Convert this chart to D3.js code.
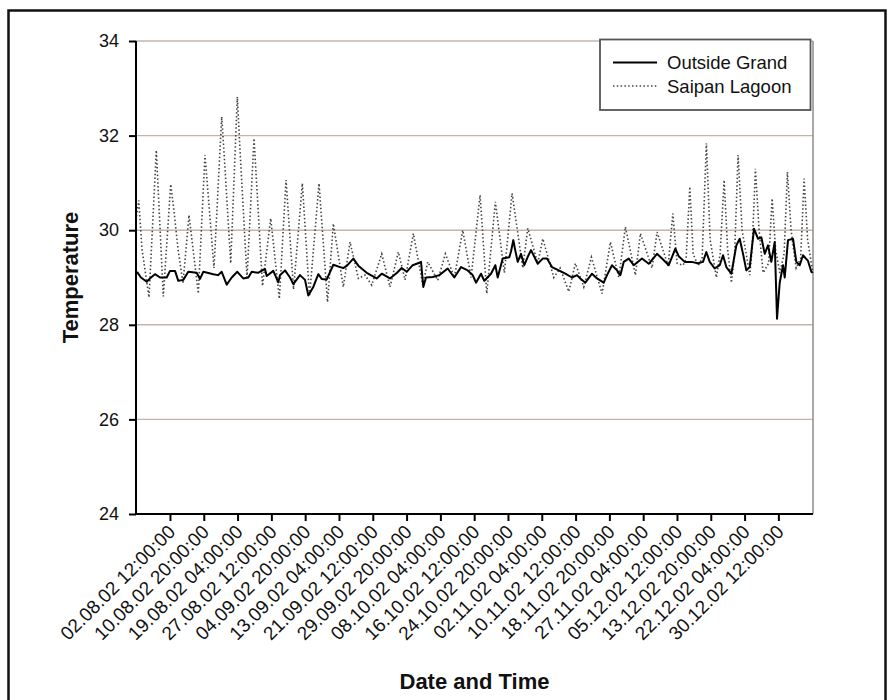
<!DOCTYPE html>
<html>
<head>
<meta charset="utf-8">
<script src="https://cdn.jsdelivr.net/npm/d3@7"></script>
<style>
  html, body { margin: 0; padding: 0; background: #fff; }
  svg { display: block; font-family: "Liberation Sans", Arial, Helvetica, sans-serif; }
</style>
</head>
<body>
<svg id="chart" width="894" height="700"></svg>
<script>
// ---------- DATA ----------
const startDate = "25.07.02 03:00:00";
const endDate = "08.01.03 00:50:00";

const xTickLabels = [
  "02.08.02 12:00:00", "10.08.02 20:00:00", "19.08.02 04:00:00", "27.08.02 12:00:00",
  "04.09.02 20:00:00", "13.09.02 04:00:00", "21.09.02 12:00:00", "29.09.02 20:00:00",
  "08.10.02 04:00:00", "16.10.02 12:00:00", "24.10.02 20:00:00", "02.11.02 04:00:00",
  "10.11.02 12:00:00", "18.11.02 20:00:00", "27.11.02 04:00:00", "05.12.02 12:00:00",
  "13.12.02 20:00:00", "22.12.02 04:00:00", "30.12.02 12:00:00"
];
const yTicks = [24, 26, 28, 30, 32, 34];
const seriesNames = ["Outside Grand", "Saipan Lagoon"];

// days since startDate
const lagoonDay = [
  0.12, 0.67, 1.48, 3.21, 5.01, 6.73, 8.56, 9.37, 10.36, 11.59, 13.07, 14.06, 15.36, 17.01,
  19.23, 21.13, 21.95, 23.35, 24.98, 25.64, 27.37, 29.10, 31.19, 33.21, 35.34, 36.99, 38.84,
  41.01, 42.78, 45.12, 47.22, 48.65, 51.11, 52.77, 54.82, 56.47, 58.12, 60.58, 62.63, 64.68,
  66.33, 68.38, 70.70, 71.93, 74.40, 76.27, 78.49, 80.56, 82.61, 84.83, 86.48, 88.60, 90.82,
  92.72, 95.36, 96.59, 99.06, 100.29, 103.00, 104.56, 106.70, 108.33, 110.40, 112.28, 114.91,
  116.96, 119.03, 120.66, 123.13, 124.36, 127.23, 128.47, 131.19, 132.35, 133.41, 134.88,
  135.63, 136.54, 137.36, 138.58, 139.57, 140.63, 141.55, 143.10, 144.01, 145.00, 145.86,
  146.80, 147.58, 148.44, 149.43, 151.33, 151.90, 152.71, 153.62, 154.61, 155.97, 156.83,
  157.69, 158.73, 159.79, 160.60, 161.51, 162.75, 163.86, 164.72, 165.58, 166.87
];
const lagoonTemp = [
  30.30, 30.63, 29.60, 28.58, 31.69, 28.60, 30.97, 30.40, 29.60, 28.88, 30.32, 29.60, 28.66, 31.59,
  29.20, 32.40, 31.30, 29.30, 32.82, 31.70, 29.00, 31.94, 28.82, 30.25, 28.55, 31.06, 28.75,
  30.99, 28.60, 30.99, 28.48, 30.14, 28.80, 29.75, 28.98, 29.05, 28.84, 29.50, 28.80, 29.54,
  28.95, 29.93, 28.84, 29.33, 28.94, 29.50, 29.00, 30.00, 29.00, 30.74, 28.66, 30.60, 29.10,
  30.78, 29.20, 30.04, 29.30, 29.82, 29.00, 29.20, 28.70, 29.30, 28.80, 29.43, 28.66,
  29.75, 29.00, 30.07, 29.05, 29.93, 29.20, 29.96, 29.25, 30.35, 29.30, 29.26,
  29.40, 30.92, 29.50, 29.25, 29.40, 31.84, 29.80, 29.00, 29.50, 31.06, 29.60,
  28.89, 29.50, 31.59, 30.00, 29.05, 29.60, 31.30, 30.00, 29.10, 29.30, 30.67,
  29.60, 29.10, 29.50, 31.23, 30.00, 29.20, 29.40, 31.09, 29.80, 29.10
];

const outsideDay = [
  0.25, 1.23, 2.64, 3.70, 4.68, 5.92, 7.57, 8.38, 9.62, 10.43, 11.66, 12.89, 14.97, 15.78, 16.59,
  19.06, 20.22, 21.13, 22.36, 23.60, 24.98, 26.45, 27.69, 28.53, 30.08, 31.81, 32.22, 33.85,
  35.08, 35.50, 36.74, 37.97, 38.78, 40.43, 41.67, 42.48, 43.71, 44.95, 45.78, 47.02, 48.65,
  50.30, 51.11, 52.02, 53.58, 54.81, 56.88, 59.34, 60.58, 62.62, 64.35, 65.51, 66.74, 68.22,
  69.53, 70.27, 70.83, 71.50, 73.15, 74.78, 76.85, 78.48, 80.13, 81.78, 83.01, 83.83, 85.06,
  85.87, 87.53, 88.59, 89.18, 90.41, 92.04, 92.46, 93.02, 93.44, 94.11, 94.92, 95.74, 96.65,
  97.39, 99.04, 100.27, 101.33, 102.56, 104.22, 105.85, 107.50, 108.73, 109.54, 110.78, 112.43,
  113.66, 115.31, 116.13, 117.36, 118.59, 119.41, 120.24, 121.48, 122.71, 124.75, 126.41,
  128.45, 129.69, 131.34, 132.97, 133.80, 135.28, 136.91, 138.56, 139.79, 140.61, 141.45,
  142.68, 143.91, 144.73, 145.54, 146.78, 148.01, 148.84, 149.66, 150.47, 151.31, 152.37,
  153.35, 154.17, 155.01, 155.82, 156.63, 157.47, 158.04, 158.70, 159.52, 159.94, 160.75,
  161.98, 162.80, 163.63, 164.45, 165.68, 166.50, 166.84
];
const outsideTemp = [
  29.12, 29.00, 28.91, 29.00, 29.07, 29.00, 29.00, 29.14, 29.14, 28.93, 28.95, 29.12, 29.10, 28.97, 29.12,
  29.07, 29.05, 29.12, 28.85, 29.00, 29.12, 28.98, 29.00, 29.12, 29.10, 29.18, 29.03, 29.14,
  28.90, 29.05, 29.15, 29.00, 28.86, 29.05, 28.95, 28.62, 28.80, 29.07, 28.97, 28.96, 29.27,
  29.22, 29.20, 29.25, 29.40, 29.25, 29.10, 28.98, 29.08, 28.98, 29.10, 29.20, 29.12, 29.26,
  29.30, 29.33, 28.80, 29.00, 29.01, 29.05, 29.19, 29.00, 29.22, 29.15, 29.05, 28.89, 29.08,
  28.93, 29.08, 29.26, 29.00, 29.40, 29.43, 29.55, 29.79, 29.60, 29.33, 29.50, 29.26, 29.45,
  29.58, 29.29, 29.40, 29.40, 29.22, 29.15, 29.08, 29.00, 29.05, 28.98, 28.89, 29.08,
  28.98, 28.89, 29.05, 29.26, 29.15, 29.05, 29.33, 29.40, 29.26, 29.40, 29.29,
  29.50, 29.40, 29.26, 29.61, 29.45, 29.33, 29.33, 29.30, 29.33, 29.54, 29.33,
  29.19, 29.26, 29.47, 29.22, 29.08, 29.68, 29.82, 29.50, 29.15, 29.22, 30.03,
  29.82, 29.85, 29.50, 29.68, 29.33, 29.75, 28.13, 28.89, 29.26, 29.00, 29.79,
  29.82, 29.33, 29.26, 29.47, 29.35, 29.12, 29.10
];

// ---------- CHART ----------
const parse = d3.utcParse("%d.%m.%y %H:%M:%S");
const t0 = parse(startDate), t1 = parse(endDate);
const toDate = d => new Date(t0.getTime() + d * 864e5);

const svg = d3.select("#chart");
const L = 136, R = 813, T = 41, B = 514;

// outer frame
svg.append("rect").attr("x", 8.5).attr("y", 10.5).attr("width", 877).attr("height", 720)
  .attr("fill", "#fff").attr("stroke", "#111").attr("stroke-width", 2.5);

const x = d3.scaleUtc().domain([t0, t1]).range([L, R]);
const y = d3.scaleLinear().domain([24, 34]).range([B, T]);

// gridlines
svg.append("g").selectAll("line").data(yTicks.filter(v => v > 24)).join("line")
  .attr("x1", L).attr("x2", R).attr("y1", d => y(d)).attr("y2", d => y(d))
  .attr("stroke", "#c4b5aa").attr("stroke-width", 1.4);

// right edge of plot area
svg.append("line").attr("x1", R).attr("x2", R).attr("y1", T).attr("y2", B)
  .attr("stroke", "#8c8c8c").attr("stroke-width", 1.5);

// series
const lineOut = d3.line().x((d, i) => x(toDate(outsideDay[i]))).y(d => y(d));
const lineLag = d3.line().x((d, i) => x(toDate(lagoonDay[i]))).y(d => y(d));

svg.append("path").datum(lagoonTemp).attr("d", lineLag)
  .attr("fill", "none").attr("stroke", "#444").attr("stroke-width", 1.6)
  .attr("stroke-dasharray", "1.5 2.3");

svg.append("path").datum(outsideTemp).attr("d", lineOut)
  .attr("fill", "none").attr("stroke", "#000").attr("stroke-width", 2)
  .attr("stroke-linejoin", "round");

// y axis
const yAxis = svg.append("g").attr("transform", `translate(${L},0)`)
  .call(d3.axisLeft(y).tickValues(yTicks).tickSize(7).tickPadding(10).tickFormat(d3.format("d")));
yAxis.select(".domain").attr("stroke", "#000").attr("stroke-width", 2).attr("d", `M0,${T}V${B}`);
yAxis.selectAll(".tick line").attr("stroke", "#000").attr("stroke-width", 2);
yAxis.selectAll("text").attr("font-size", 18).attr("fill", "#111")
  .attr("font-family", "'Liberation Sans', Arial, sans-serif");

// x axis
const xTickDates = xTickLabels.map(parse);
const xAxis = svg.append("g").attr("transform", `translate(0,${B})`)
  .call(d3.axisBottom(x).tickValues(xTickDates).tickSize(7).tickFormat((d, i) => xTickLabels[i]));
xAxis.select(".domain").attr("stroke", "#000").attr("stroke-width", 2).attr("d", `M${L},0H${R}`);
xAxis.selectAll(".tick line").attr("stroke", "#000").attr("stroke-width", 2);
xAxis.selectAll("text").attr("font-size", 19).attr("fill", "#111")
  .attr("font-family", "'Liberation Sans', Arial, sans-serif")
  .attr("text-anchor", "end").attr("x", 0).attr("y", 0).attr("dy", 0)
  .attr("transform", "translate(6,19) rotate(-45)");

// axis titles
svg.append("text").attr("x", (L + R) / 2).attr("y", 689).attr("text-anchor", "middle")
  .attr("font-size", 22).attr("font-weight", "bold").attr("fill", "#111").text("Date and Time");
svg.append("text").attr("transform", `translate(78,${(T + B) / 2}) rotate(-90)`)
  .attr("text-anchor", "middle").attr("font-size", 22).attr("font-weight", "bold")
  .attr("fill", "#111").text("Temperature");

// legend
const lg = svg.append("g");
lg.append("rect").attr("x", 600).attr("y", 39.5).attr("width", 210.5).attr("height", 70.5)
  .attr("fill", "#fff").attr("stroke", "#555").attr("stroke-width", 1.8);
lg.append("line").attr("x1", 613).attr("x2", 657).attr("y1", 62.5).attr("y2", 62.5)
  .attr("stroke", "#000").attr("stroke-width", 2);
lg.append("line").attr("x1", 613).attr("x2", 657).attr("y1", 86).attr("y2", 86)
  .attr("stroke", "#444").attr("stroke-width", 1.6).attr("stroke-dasharray", "1.5 2.3");
lg.selectAll("text.lt").data(seriesNames).join("text").attr("class", "lt")
  .attr("x", 667).attr("y", (d, i) => 69 + i * 23.5)
  .attr("font-size", 18.5).attr("fill", "#111").text(d => d);
</script>
</body>
</html>
